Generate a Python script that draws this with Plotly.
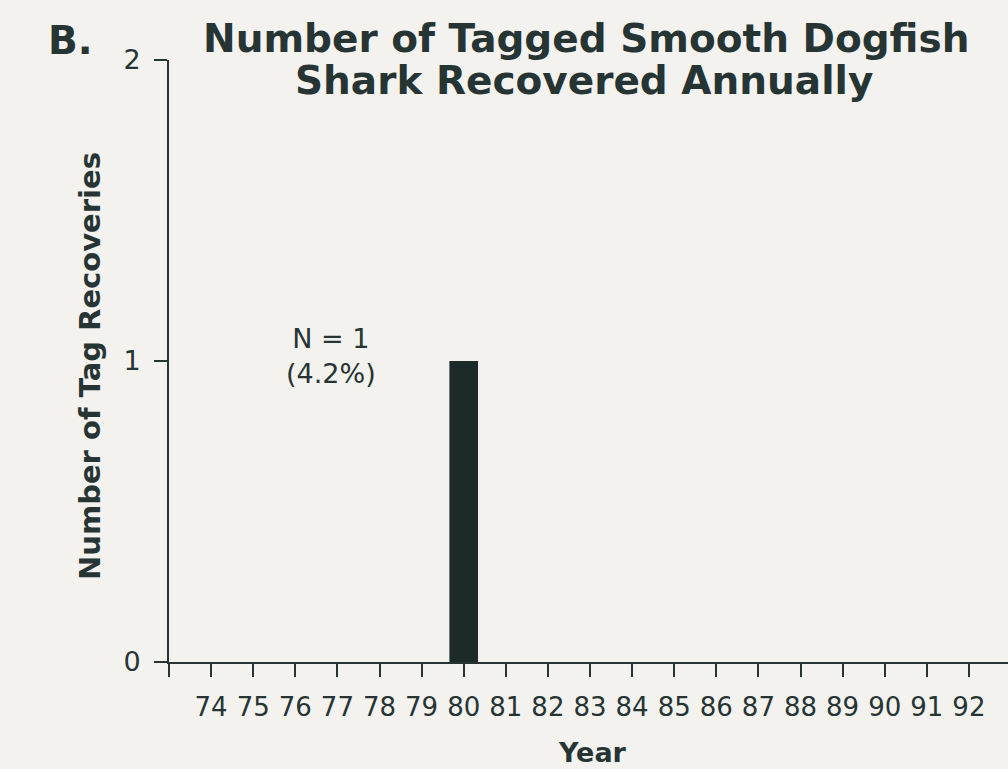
import plotly.graph_objects as go

# tag recoveries per year (19xx)
years = list(range(74, 93))
recoveries = [0, 0, 0, 0, 0, 0, 1, 0, 0, 0, 0, 0, 0, 0, 0, 0, 0, 0, 0]
year_labels = [str(y) for y in years]

ink = "#263434"
paper = "#f4f2ee"
font = "DejaVu Sans"

# plot area in pixels: x 169..1008, y 60..662
L, R, T, B = 169, 0, 60, 107
W, H = 1008, 769
pw, ph = W - L - R, H - T - B


def px(x):
    return (x - L) / pw


def py(y):
    return (H - B - y) / ph


def label(x, y, text, size, angle=0):
    fig.add_annotation(
        x=px(x), y=py(y), xref="paper", yref="paper",
        xanchor="center", yanchor="middle",
        text=text, showarrow=False, textangle=angle,
        font=dict(family=font, size=size, color=ink),
    )


fig = go.Figure()
fig.add_trace(
    go.Bar(
        x=years,
        y=recoveries,
        width=0.68,
        marker=dict(color="#1d2a2a", line=dict(width=0)),
        showlegend=False,
    )
)

fig.add_annotation(
    x=76.85, y=1.017, xref="x", yref="y",
    xanchor="center", yanchor="middle",
    text="N = 1<br>(4.2%)",
    showarrow=False,
    font=dict(family=font, size=27, color=ink),
    align="center",
)
label(70, 40, "<b>B.</b>", 39)
label(586, 39, "<b>Number of Tagged Smooth Dogfish</b>", 39)
label(584, 81, "<b>Shark Recovered Annually</b>", 39)
label(90, 366, "<b>Number of Tag Recoveries</b>", 29, angle=-90)
label(592, 752, "<b>Year</b>", 27)

fig.update_layout(
    width=W,
    height=H,
    margin=dict(l=L, r=R, t=T, b=B),
    paper_bgcolor=paper,
    plot_bgcolor=paper,
    font=dict(family=font, color=ink),
)
fig.update_xaxes(
    range=[73, 73 + pw / 42.1],
    tickvals=[73] + years,
    ticktext=[""] + year_labels,
    ticks="outside",
    ticklen=13,
    tickwidth=2,
    tickcolor=ink,
    ticklabelstandoff=8,
    showline=True,
    linecolor=ink,
    linewidth=2,
    showgrid=False,
    zeroline=False,
    automargin=False,
    tickfont=dict(family=font, size=26, color=ink),
)
fig.update_yaxes(
    range=[0, 2],
    tickvals=[0, 1, 2],
    ticks="outside",
    ticklen=13,
    tickwidth=2,
    tickcolor=ink,
    ticklabelstandoff=8,
    showline=True,
    linecolor=ink,
    linewidth=2,
    showgrid=False,
    zeroline=False,
    automargin=False,
    tickfont=dict(family=font, size=27, color=ink),
)

fig.write_html(
    "out.html",
    config={"displayModeBar": False},
    post_script="document.body.style.margin='0';document.body.style.overflow='hidden';",
)
